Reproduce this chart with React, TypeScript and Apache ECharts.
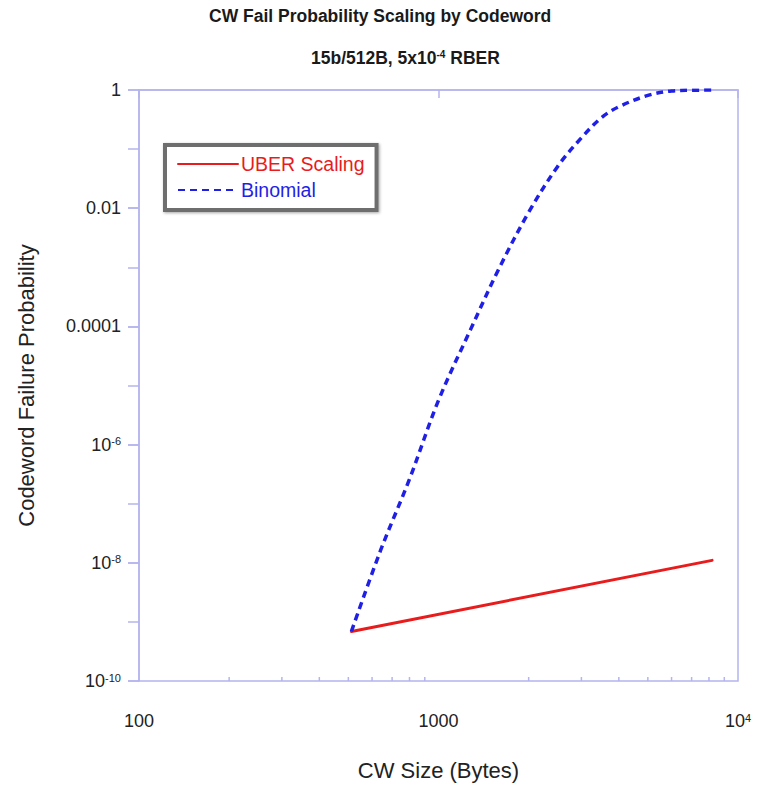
import React, { useEffect, useRef } from "react";
import * as echarts from "echarts";

// ---- data ----
const seriesNames = ["UBER Scaling", "Binomial"];
const uberX = [512, 8192];
const uberY = [6.9e-10, 1.1e-8];
const binomialX = [512, 640, 800, 1000, 1280, 1600, 2000, 2500, 3000, 3500, 4000, 5000, 6000, 7000, 8192];
const binomialY = [6.9e-10, 1.6e-8, 2.6e-7, 5.6e-6, 8.9e-5, 1.0e-3, 8.5e-3, 0.051, 0.155, 0.34, 0.52, 0.81, 0.965, 0.99, 1.0];
const xMinorTicks = [200, 300, 400, 500, 600, 700, 800, 900, 2000, 3000, 4000, 5000, 6000, 7000, 8000, 9000];
const xTickLabels: Record<string, string> = { "2": "100", "3": "1000", "4": "10{sup|4}" };
const yTickLabels: Record<string, string> = {
  "0": "1",
  "-2": "0.01",
  "-4": "0.0001",
  "-6": "10{sup|-6}",
  "-8": "10{sup|-8}",
  "-10": "10{sup|-10}",
};
const X_MIN = 100;
const X_MAX = 10000;
const Y_MIN = 1e-10;
const Y_MAX = 1;

const FONT = "'Liberation Sans', Arial, Helvetica, sans-serif";
const AXIS_COLOR = "#b4b4ee";
const RED = "#e81c1c";
const BLUE = "#1f1fe6";

export default function App() {
  const ref = useRef<HTMLDivElement>(null);
  useEffect(() => {
    document.body.style.margin = "0";
    const chart = echarts.init(ref.current!, null, { renderer: "svg" });
    const supRich = {
      sup: { fontSize: 11, verticalAlign: "top", lineHeight: 10, fontFamily: FONT, color: "#222" },
    };
    const option: any = {
      animation: false,
      backgroundColor: "#ffffff",
      title: [
        {
          text: "CW Fail Probability Scaling by Codeword",
          left: 209,
          top: 7,
          padding: 0,
          textStyle: { fontSize: 17.5, fontWeight: "bold", fontFamily: FONT, color: "#1a1a1a" },
        },
        {
          text: "15b/512B, 5x10{sup|-4} RBER",
          left: 311,
          top: 49,
          padding: 0,
          textStyle: {
            fontSize: 17.5,
            fontWeight: "bold",
            fontFamily: FONT,
            color: "#1a1a1a",
            rich: {
              sup: { fontSize: 10, fontWeight: "bold", verticalAlign: "top", lineHeight: 10, fontFamily: FONT, color: "#1a1a1a" },
            },
          },
        },
      ],
      legend: {
        orient: "vertical",
        left: 165,
        top: 145,
        padding: [9, 12, 10, 12],
        itemWidth: 60,
        itemHeight: 12,
        itemGap: 6,
        backgroundColor: "#ffffff",
        borderColor: "#6e6e6e",
        borderWidth: 4,
        shadowColor: "rgba(0,0,0,0.35)",
        shadowBlur: 3,
        shadowOffsetX: 1,
        shadowOffsetY: 1,
        itemStyle: { opacity: 0 },
        data: [
          { name: seriesNames[0], textStyle: { color: RED } },
          { name: seriesNames[1], textStyle: { color: BLUE } },
        ],
        textStyle: { fontSize: 19.5, fontFamily: FONT, padding: [0, 0, 0, -2] },
      },
      grid: {
        left: 139,
        right: 19,
        top: 90,
        bottom: 102,
        show: true,
        borderColor: AXIS_COLOR,
        borderWidth: 1.5,
        backgroundColor: "transparent",
      },
      xAxis: {
        type: "log",
        logBase: 10,
        min: X_MIN,
        max: X_MAX,
        name: "CW Size (Bytes)",
        nameLocation: "middle",
        nameGap: 78,
        nameTextStyle: { fontSize: 22, fontFamily: FONT, color: "#222" },
        axisLine: { show: true, lineStyle: { color: AXIS_COLOR, width: 1.5 } },
        axisTick: { show: true, length: 8, lineStyle: { color: AXIS_COLOR, width: 1.5 } },
        splitLine: { show: false },
        axisLabel: {
          margin: 31,
          fontSize: 18,
          fontFamily: FONT,
          color: "#222",
          formatter: (v: number) => xTickLabels[String(Math.round(Math.log10(v)))] ?? "",
          rich: supRich,
        },
      },
      yAxis: [
        {
          type: "log",
          logBase: 100,
          min: Y_MIN,
          max: Y_MAX,
          splitNumber: 5,
          name: "Codeword Failure Probability",
          nameLocation: "middle",
          nameGap: 102,
          nameTextStyle: { fontSize: 22, fontFamily: FONT, color: "#222" },
          axisLine: { show: true, lineStyle: { color: AXIS_COLOR, width: 1.5 } },
          axisTick: { show: true, length: 11, lineStyle: { color: AXIS_COLOR, width: 1.5 } },
          splitLine: { show: false },
          axisLabel: {
            margin: 18,
            fontSize: 18,
            fontFamily: FONT,
            color: "#222",
            formatter: (v: number) => yTickLabels[String(Math.round(Math.log10(v)))] ?? "",
            rich: supRich,
          },
        },
        {
          // exponent-space axis, only used to draw a tick at every decade
          type: "value",
          min: -10,
          max: 0,
          interval: 1,
          position: "left",
          axisLine: { show: false },
          axisTick: { show: true, length: 11, lineStyle: { color: AXIS_COLOR, width: 1.5 } },
          axisLabel: { show: false },
          splitLine: { show: false },
        },
      ],
      series: [
        {
          name: seriesNames[0],
          type: "line",
          yAxisIndex: 0,
          data: uberX.map((x, i) => [x, uberY[i]]),
          symbol: "none",
          lineStyle: { color: RED, width: 3, cap: "round" },
          itemStyle: { color: RED },
          z: 3,
        },
        {
          name: seriesNames[1],
          type: "line",
          yAxisIndex: 0,
          data: binomialX.map((x, i) => [x, binomialY[i]]),
          symbol: "none",
          smooth: 0.35,
          lineStyle: { color: BLUE, width: 3.5, type: [7, 5] },
          itemStyle: { color: BLUE },
          z: 4,
        },
        {
          type: "custom",
          yAxisIndex: 0,
          silent: true,
          clip: false,
          data: xMinorTicks.map((v) => [v, Y_MIN]),
          renderItem: (_params: any, api: any) => {
            const p = api.coord([api.value(0), api.value(1)]);
            return {
              type: "line",
              shape: { x1: p[0], y1: p[1], x2: p[0], y2: p[1] - 4 },
              style: { stroke: AXIS_COLOR, lineWidth: 1.5 },
            };
          },
          z: 2,
        },
      ],
    };
    chart.setOption(option);
    return () => chart.dispose();
  }, []);
  return <div ref={ref} style={{ width: 757, height: 786 }} />;
}
